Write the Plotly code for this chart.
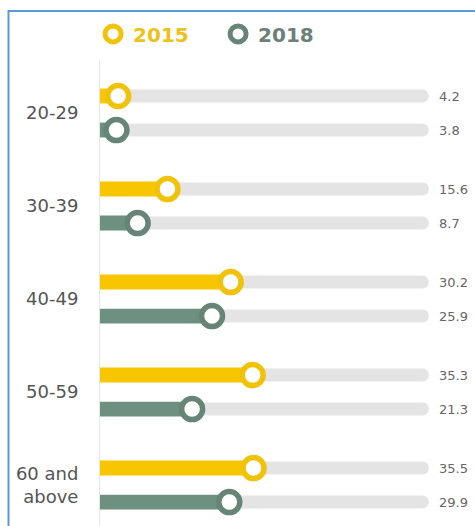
import plotly.graph_objects as go

categories = ["20-29", "30-39", "40-49", "50-59", "60 and<br>above"]
values_2015 = [4.2, 15.6, 30.2, 35.3, 35.5]
values_2018 = [3.8, 8.7, 25.9, 21.3, 29.9]
series_names = ["2015", "2018"]

TRACK_MAX = 76
YELLOW = "#f7c600"
YELLOW_RING = "#f0c20a"
GREEN = "#6e9080"
GREEN_RING = "#678576"
TRACK = "#e4e4e4"
OFF = 0.183

idx = list(range(len(categories)))
y15 = [i - OFF for i in idx]
y18 = [i + OFF for i in idx]

fig = go.Figure()

# background tracks
for ys in (y15, y18):
    fig.add_trace(go.Bar(
        x=[TRACK_MAX] * len(ys), y=ys, base=0, orientation="h", width=0.14,
        marker=dict(color=TRACK, cornerradius=7, line=dict(width=0)),
        showlegend=False, hoverinfo="skip"))

# coloured bars
fig.add_trace(go.Bar(x=values_2015, y=y15, orientation="h", width=0.16,
                     marker=dict(color=YELLOW, line=dict(width=0)),
                     showlegend=False, hoverinfo="skip"))
fig.add_trace(go.Bar(x=values_2018, y=y18, orientation="h", width=0.16,
                     marker=dict(color=GREEN, line=dict(width=0)),
                     showlegend=False, hoverinfo="skip"))

# ring markers (also legend)
fig.add_trace(go.Scatter(
    x=values_2015, y=y15, mode="markers",
    name='<span style="color:%s"><b>%s</b></span>' % ("#eec11a", series_names[0]),
    marker=dict(size=21, color="white", line=dict(color=YELLOW_RING, width=5.5))))
fig.add_trace(go.Scatter(
    x=values_2018, y=y18, mode="markers",
    name='<span style="color:%s"><b>%s</b></span>' % ("#6d7f78", series_names[1]),
    marker=dict(size=21, color="white", line=dict(color=GREEN_RING, width=5.5))))

annotations = []
for ys, vals in ((y15, values_2015), (y18, values_2018)):
    for y, v in zip(ys, vals):
        annotations.append(dict(x=TRACK_MAX, y=y, xref="x", yref="y", text=f"{v}",
                                xanchor="left", yanchor="middle", xshift=8, showarrow=False,
                                font=dict(size=13, color="#666666", family="DejaVu Sans")))

fig.update_layout(
    width=475, height=526,
    margin=dict(l=100, r=29, t=60, b=0),
    paper_bgcolor="white", plot_bgcolor="white",
    barmode="overlay",
    showlegend=True,
    legend=dict(orientation="h", x=-0.02, xanchor="left", y=1.056, yanchor="middle",
                entrywidth=80, entrywidthmode="pixels",
                font=dict(size=20, family="DejaVu Sans"), bgcolor="rgba(0,0,0,0)"),
    xaxis=dict(range=[0, 80], showgrid=False, zeroline=False, showticklabels=False,
               showline=False),
    yaxis=dict(range=[4.44, -0.57], tickvals=idx, ticktext=categories,
               showgrid=False, zeroline=False, showline=True, linecolor="#e6e6e6",
               linewidth=1, ticks="", ticklabelstandoff=17,
               tickfont=dict(size=18, color="#555555", family="DejaVu Sans")),
    annotations=annotations,
    shapes=[dict(type="rect", xref="paper", yref="paper",
                 x0=(8.5 - 100) / 346, x1=2, y0=-0.5, y1=1 + (60 - 11) / 466,
                 line=dict(color="#5b9bd5", width=2), layer="below")],
)

fig.write_html("out.html")
